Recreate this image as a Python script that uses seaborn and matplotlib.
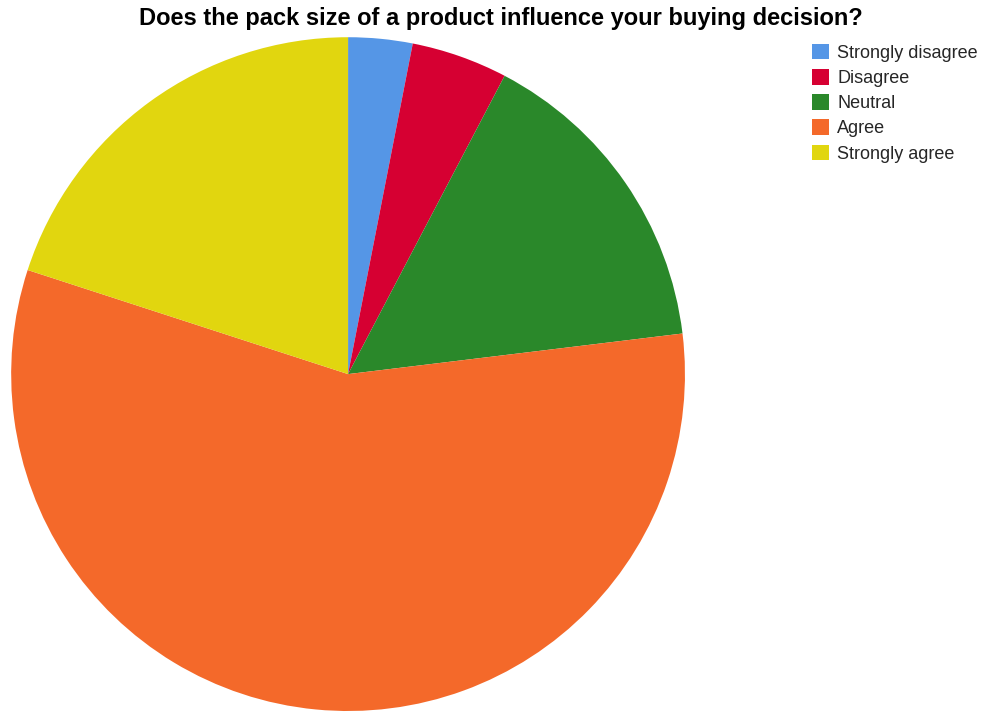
import matplotlib
matplotlib.use("Agg")
import matplotlib.pyplot as plt
import seaborn as sns
from matplotlib.patches import Patch

categories = ["Strongly disagree", "Disagree", "Neutral", "Agree", "Strongly agree"]
counts = [2, 3, 10, 37, 13]
colors = ["#5596e6", "#d60032", "#2a882a", "#f4692a", "#e1d60f"]
title = "Does the pack size of a product influence your buying decision?"

sns.set_theme(style="white")
plt.rcParams["font.family"] = ["Liberation Sans", "DejaVu Sans"]

fig = plt.figure(figsize=(9.87, 7.13), dpi=100)
ax = fig.add_axes([0.01115, 0.0028, 0.683, 0.945])
palette = sns.color_palette(colors)
ax.pie(counts, colors=palette, startangle=90, counterclock=False,
       radius=1.0, wedgeprops=dict(linewidth=0))
ax.set_xlim(-1, 1)
ax.set_ylim(-1, 1)
ax.set_aspect("equal")
ax.axis("off")

fig.text(0.5075, 1 - 18 / 713, title, ha="center", va="center",
         fontsize=17, fontweight="bold", color="#000000")

handles = [Patch(facecolor=c, edgecolor="none") for c in palette]
fig.legend(handles, categories, loc="upper left",
           bbox_to_anchor=(812 / 987, 1 - 44 / 713), frameon=False,
           fontsize=13, handlelength=0.94, handleheight=0.94,
           handletextpad=0.45, labelspacing=0.4, borderaxespad=0,
           borderpad=0)

fig.savefig("out.png", dpi=100, facecolor="white")
